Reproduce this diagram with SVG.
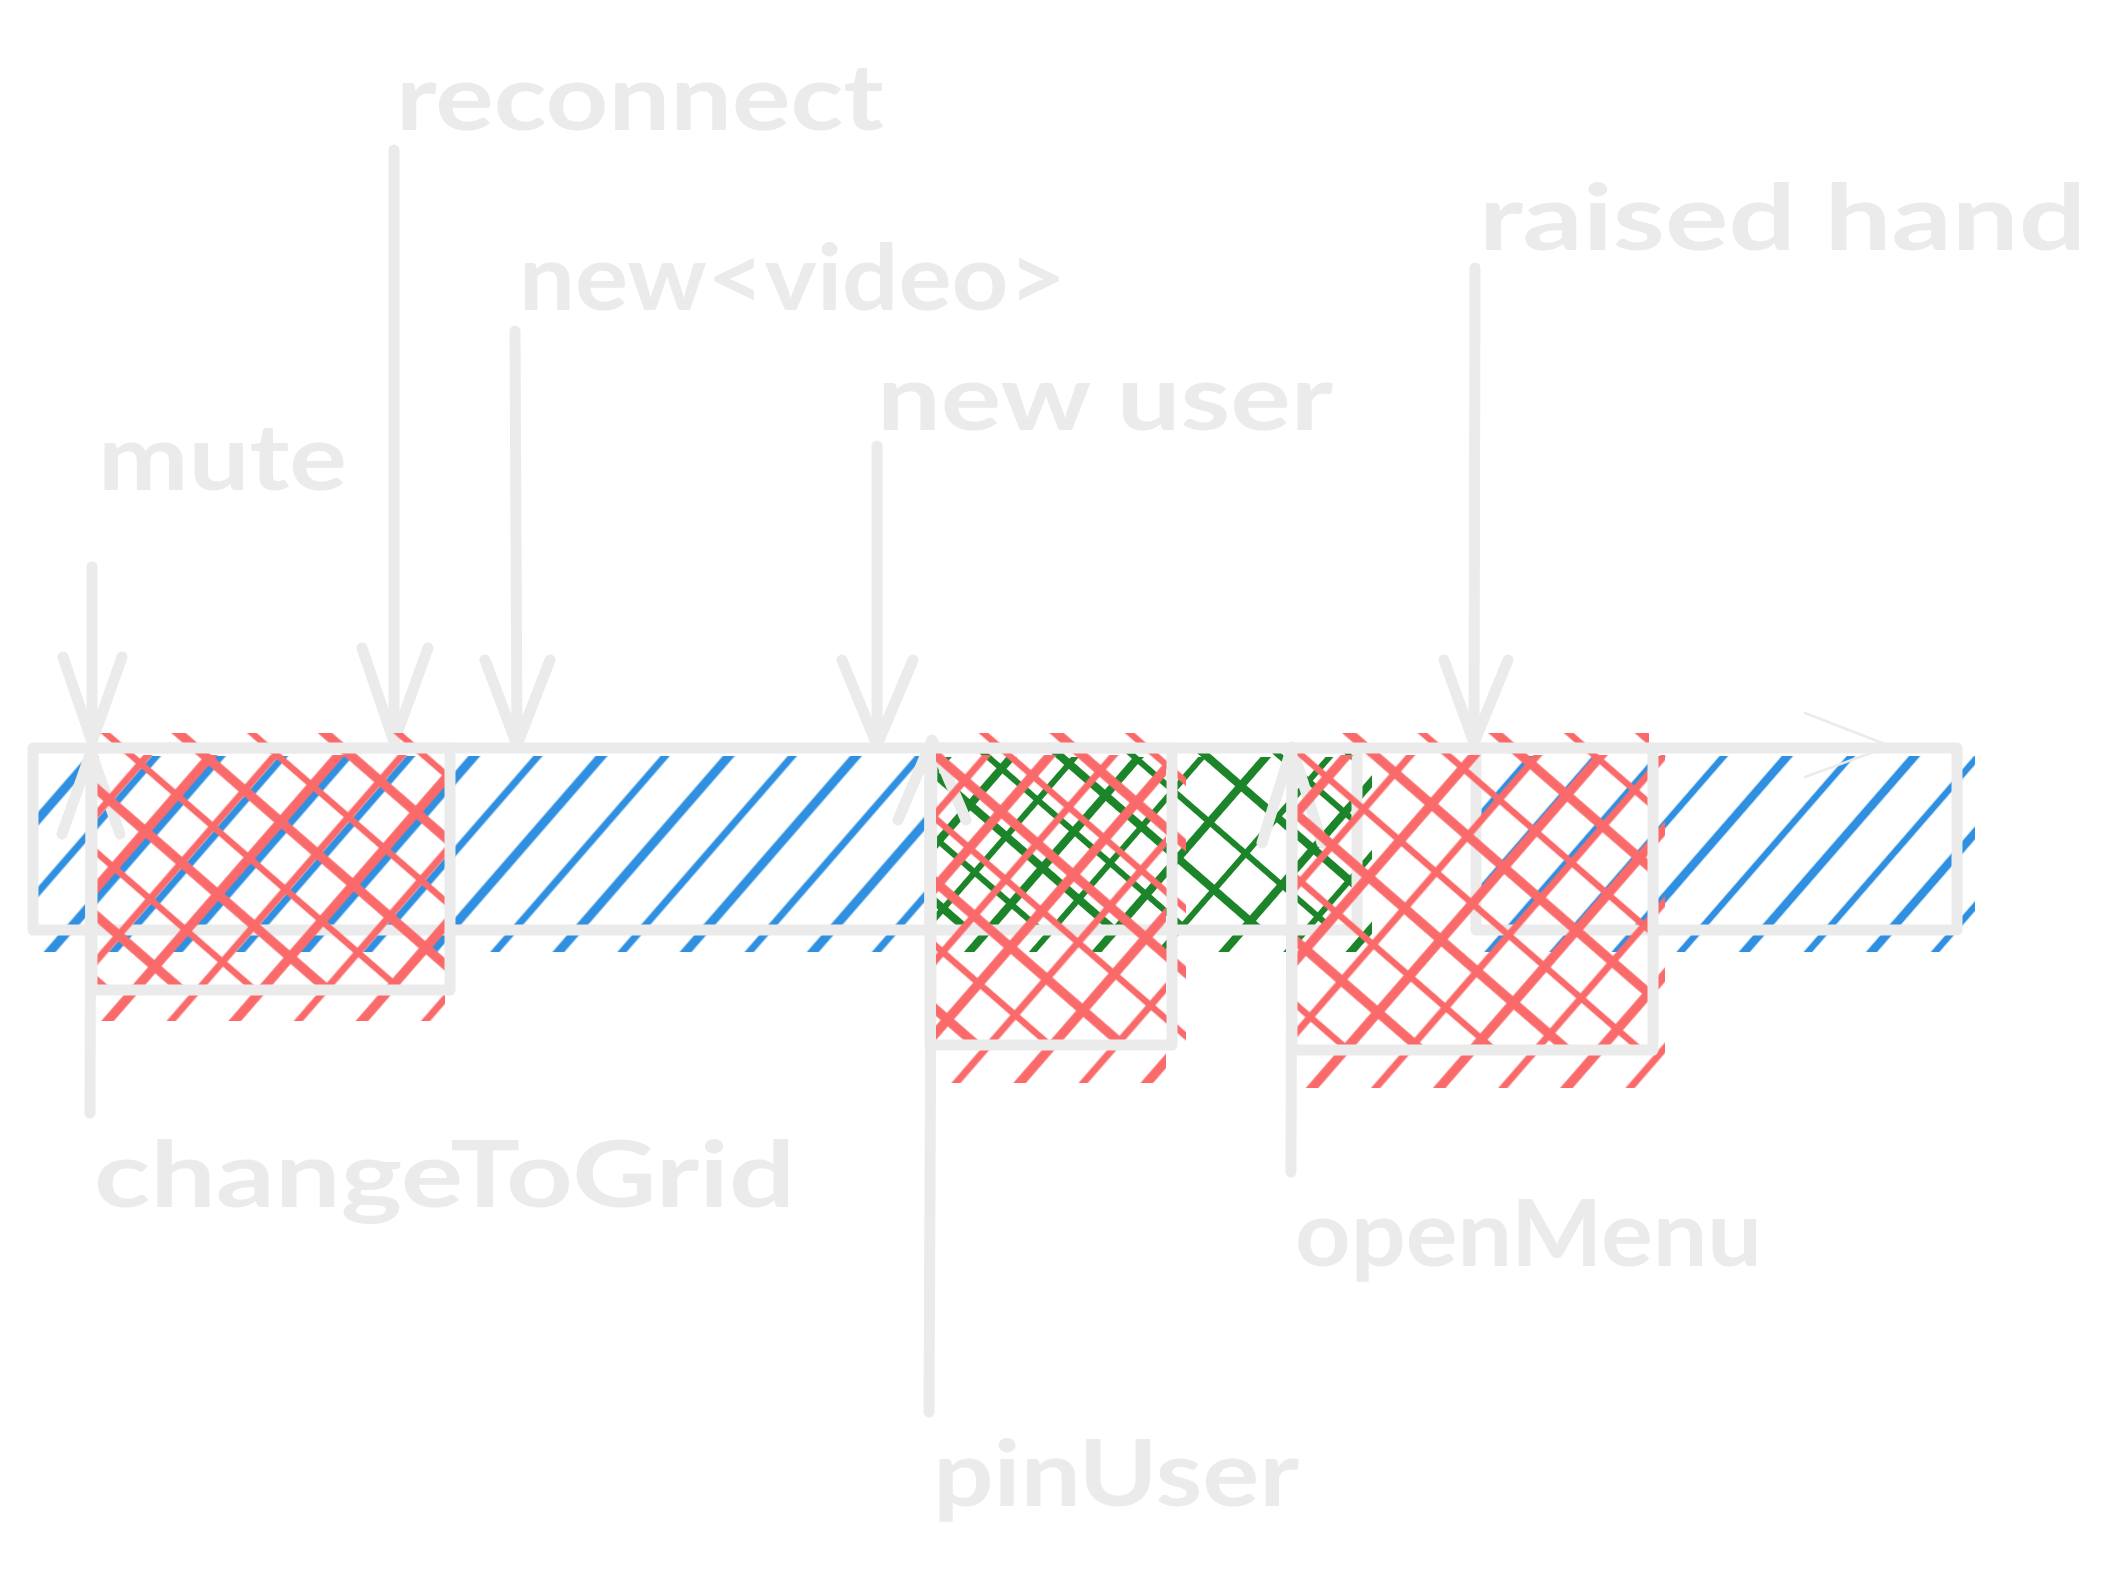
<svg xmlns="http://www.w3.org/2000/svg" width="2117" height="1578" viewBox="0 0 2117 1578">
  <style>
    .edge{fill:none;stroke:#ebebeb;stroke-width:11;stroke-linecap:round;stroke-linejoin:round}
    .thin{fill:none;stroke:#ebebeb;stroke-width:2.5;stroke-linecap:round;stroke-linejoin:round}
    .label{font-family:Lato,"Open Sans","Noto Sans",sans-serif;font-weight:700;font-size:92px;fill:#ebebeb}
    .hb{stroke:#2f8fe0}
    .hr{stroke:#fb6a6a}
    .hg{stroke:#1c8429}
  </style>
  <defs>
    <!-- hachure fills: "/" passes use rotate(41) (49deg lines), "\" passes use rotate(-49) (41deg lines) -->
    <pattern id="hatch-blue-a" patternUnits="userSpaceOnUse" width="96" height="100" patternTransform="rotate(41) translate(14,0)">
      <line class="hb" x1="24" y1="-5" x2="24" y2="105" stroke-width="7"/>
      <line class="hb" x1="72" y1="-5" x2="72" y2="105" stroke-width="9"/>
    </pattern>
    <pattern id="hatch-blue-c" patternUnits="userSpaceOnUse" width="96" height="100" patternTransform="rotate(41) translate(-3,0)">
      <line class="hb" x1="24" y1="-5" x2="24" y2="105" stroke-width="8.5"/>
      <line class="hb" x1="72" y1="-5" x2="72" y2="105" stroke-width="6.5"/>
    </pattern>
    <pattern id="hatch-red-fwd-1" patternUnits="userSpaceOnUse" width="96" height="100" patternTransform="rotate(41) translate(7,0)">
      <line class="hr" x1="24" y1="-5" x2="24" y2="105" stroke-width="7"/>
      <line class="hr" x1="72" y1="-5" x2="72" y2="105" stroke-width="9.5"/>
    </pattern>
    <pattern id="hatch-red-fwd-2" patternUnits="userSpaceOnUse" width="96" height="100" patternTransform="rotate(41) translate(16,0)">
      <line class="hr" x1="24" y1="-5" x2="24" y2="105" stroke-width="9.5"/>
      <line class="hr" x1="72" y1="-5" x2="72" y2="105" stroke-width="7"/>
    </pattern>
    <pattern id="hatch-red-fwd-3" patternUnits="userSpaceOnUse" width="96" height="100" patternTransform="rotate(41)">
      <line class="hr" x1="24" y1="-5" x2="24" y2="105" stroke-width="7"/>
      <line class="hr" x1="72" y1="-5" x2="72" y2="105" stroke-width="9.5"/>
    </pattern>
    <pattern id="hatch-red-back" patternUnits="userSpaceOnUse" width="96" height="100" patternTransform="rotate(-49) translate(20,0)">
      <line class="hr" x1="24" y1="-5" x2="24" y2="105" stroke-width="9.5"/>
      <line class="hr" x1="72" y1="-5" x2="72" y2="105" stroke-width="6.5"/>
    </pattern>
    <pattern id="hatch-green-fwd" patternUnits="userSpaceOnUse" width="96" height="100" patternTransform="rotate(41) translate(36,0)">
      <line class="hg" x1="24" y1="-5" x2="24" y2="105" stroke-width="6"/>
      <line class="hg" x1="72" y1="-5" x2="72" y2="105" stroke-width="8"/>
    </pattern>
    <pattern id="hatch-green-back" patternUnits="userSpaceOnUse" width="96" height="100" patternTransform="rotate(-49) translate(5,0)">
      <line class="hg" x1="24" y1="-5" x2="24" y2="105" stroke-width="8"/>
      <line class="hg" x1="72" y1="-5" x2="72" y2="105" stroke-width="6"/>
    </pattern>
  </defs>

  <rect width="2117" height="1578" fill="#ffffff"/>

  <!-- timeline bar: blue segment before pinUser -->
  <g id="segment-blue-start">
    <rect x="37" y="756" width="888" height="196" fill="url(#hatch-blue-a)"/>
    <rect class="edge" x="33" y="748" width="897" height="182"/>
  </g>

  <!-- timeline bar: blue segment after raised hand -->
  <g id="segment-blue-end">
    <rect x="1480" y="756" width="495" height="196" fill="url(#hatch-blue-c)"/>
    <rect class="edge" x="1476" y="748" width="481" height="182"/>
  </g>

  <!-- timeline bar: green segment -->
  <g id="segment-green">
    <rect x="936" y="746" width="424" height="184" fill="url(#hatch-green-back)"/>
    <rect x="936" y="757" width="436" height="195" fill="url(#hatch-green-fwd)"/>
    <rect class="edge" x="930" y="748" width="427" height="182"/>
  </g>

  <!-- event arrows -->
  <g id="connectors">
    <path class="thin" d="M40,748 L1890,746 M1805,713 L1890,746 L1805,777"/>
    <path class="edge" d="M92,567 L92,742 M63,657 L92,742 L122,657"/>
    <path class="edge" d="M394,150 L394,742 M362,648 L394,742 L428,648"/>
    <path class="edge" d="M515,331 L517,745 M485,660 L517,745 L550,660"/>
    <path class="edge" d="M877,446 L877,745 M842,660 L877,745 L913,660"/>
    <path class="edge" d="M1475,268 L1474,743 M1444,660 L1474,743 L1508,660"/>
    <path class="edge" d="M90,1113 L91,752 M62,834 L91,752 L120,834"/>
    <path class="edge" d="M929,1412 L932,740 M898,820 L932,740 L966,820"/>
    <path class="edge" d="M1291,1172 L1292,747 M1262,843 L1292,747 L1322,843"/>
  </g>

  <!-- red blocks -->
  <g id="block-changeToGrid">
    <rect x="96" y="733" width="349" height="257" fill="url(#hatch-red-back)"/>
    <rect x="96" y="755" width="349" height="266" fill="url(#hatch-red-fwd-1)"/>
    <rect class="edge" x="92" y="748" width="358" height="242"/>
  </g>

  <g id="block-pinUser">
    <rect x="936" y="733" width="250" height="312" fill="url(#hatch-red-back)"/>
    <rect x="936" y="755" width="230" height="328" fill="url(#hatch-red-fwd-2)"/>
    <rect class="edge" x="930" y="748" width="242" height="297"/>
  </g>

  <g id="block-openMenu">
    <rect x="1297" y="733" width="352" height="317" fill="url(#hatch-red-back)"/>
    <rect x="1297" y="755" width="368" height="333" fill="url(#hatch-red-fwd-3)"/>
    <rect class="edge" x="1292" y="748" width="361" height="302"/>
  </g>

  <!-- labels -->
  <g id="labels">
    <text class="label" x="396" y="130" textLength="488" lengthAdjust="spacingAndGlyphs">reconnect</text>
    <text class="label" x="519" y="310" textLength="547" lengthAdjust="spacingAndGlyphs">new&lt;video&gt;</text>
    <text class="label" x="98" y="490" textLength="249" lengthAdjust="spacingAndGlyphs">mute</text>
    <text class="label" x="877" y="430" textLength="456" lengthAdjust="spacingAndGlyphs">new user</text>
    <text class="label" x="1479" y="250" textLength="607" lengthAdjust="spacingAndGlyphs">raised hand</text>
    <text class="label" x="94" y="1207" textLength="701" lengthAdjust="spacingAndGlyphs">changeToGrid</text>
    <text class="label" x="1295" y="1266" textLength="467" lengthAdjust="spacingAndGlyphs">openMenu</text>
    <text class="label" x="933" y="1506" textLength="366" lengthAdjust="spacingAndGlyphs">pinUser</text>
  </g>
</svg>
